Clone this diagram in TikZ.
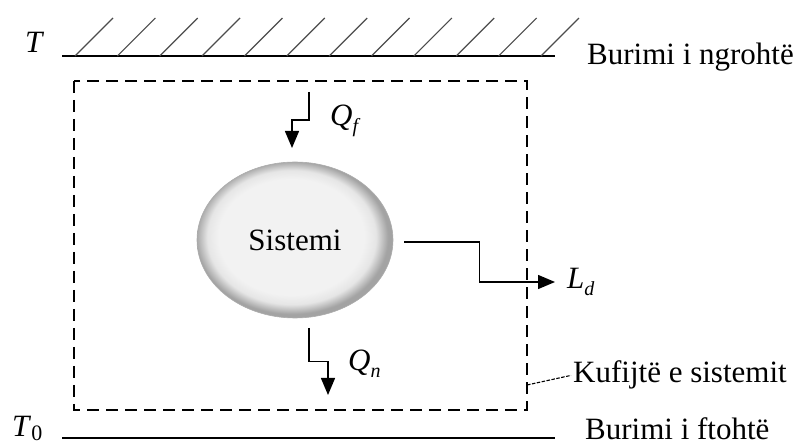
\documentclass[tikz,border=0pt]{standalone}
\usepackage{fontspec}
\setmainfont{Liberation Serif}
\usepackage{tikz}
\usetikzlibrary{calc, arrows.meta, shapes.geometric}

\colorlet{sysin}{gray!10}
\colorlet{sysmid}{gray!20}
\colorlet{sysout}{gray!72}
\pgfdeclareradialshading{sysshade}{\pgfpoint{-1.5bp}{1.5bp}}{color(0bp)=(sysin); color(18.5bp)=(sysin); color(21.5bp)=(sysmid); color(24.5bp)=(sysout); color(50bp)=(sysout)}

\newcommand{\symsub}[2]{\textit{#1}\raisebox{-0.22em}{\fontsize{20}{20}\selectfont #2}}

\tikzset{
    flow/.style={line width=1.4pt, -{Triangle[width=14pt,length=17pt]}},
    wall/.style={line width=1.6pt},
    hatch/.style={line width=1.2pt, black!70},
    boundary/.style={line width=1.4pt, dash pattern=on 12pt off 7pt},
    leader/.style={line width=1.1pt, dash pattern=on 3.5pt off 1.5pt},
    txt/.style={font=\fontsize{31}{36}\selectfont, inner sep=0pt}
}

\begin{document}
\begin{tikzpicture}[x=1pt, y=-1pt]
            \useasboundingbox (0,0) rectangle (804,446);
            \coordinate (H1) at (62,56);
            \coordinate (H2) at (555,56);
            \coordinate (C1) at (62,438);
            \coordinate (C2) at (555,438);
            \coordinate (B1) at (74,81);
            \coordinate (B2) at (527,410);
            \coordinate (qf0) at (309,92);
            \coordinate (qf1) at (292,148);
            \coordinate (qn0) at (309,328);
            \coordinate (qn1) at (328,395);
            \coordinate (ld0) at (404,242);
            \coordinate (ld1) at (555,282);
            \coordinate (kp) at (527,385);
            \draw[wall] (H1) -- (H2);
            \foreach \i in {0,...,11}
                \draw[hatch] (75+\i*42.36,56) -- ++(38,-38);
            \draw[wall] (C1) -- (C2);
            \draw[boundary] (B1) rectangle (B2);
            \node[txt, ellipse, minimum width=196pt, minimum height=156pt, shading=sysshade, draw=gray!65, line width=0.6pt] (sys) at (295,240) {Sistemi};
            \draw[flow] (qf0) |- ($(qf0)!.5!(qf1)$) -| (qf1);
            \draw[flow] (qn0) |- ($(qn0)!.5!(qn1)$) -| (qn1);
            \draw[flow] (ld0) -| ($(ld0)!.5!(ld1)$) |- (ld1);
            \node[txt, anchor=base west] (t) at (25,53) {\textit{T}};
            \node[txt, anchor=base west] (t0) at (12,437) {\textit{T}\raisebox{-0.1em}{\fontsize{22}{22}\selectfont 0}};
            \node[txt, anchor=base west] (qf) at (330,126) {\symsub{Q}{\textit{f}}};
            \node[txt, anchor=base west] (qn) at (348,371) {\symsub{Q}{\textit{n}}};
            \node[txt, anchor=base west] (ld) at (567,289) {\symsub{L}{\textit{d}}};
            \node[txt, anchor=base west] (hot) at (587,65) {Burimi i ngrohtë};
            \node[txt, anchor=base west, inner xsep=2pt] (kuf) at (571,383) {Kufijtë e sistemit};
            \node[txt, anchor=base west] (cold) at (585,440) {Burimi i ftohtë};
            \draw[leader] (kp) -- (kuf.west);
\end{tikzpicture}
\end{document}
